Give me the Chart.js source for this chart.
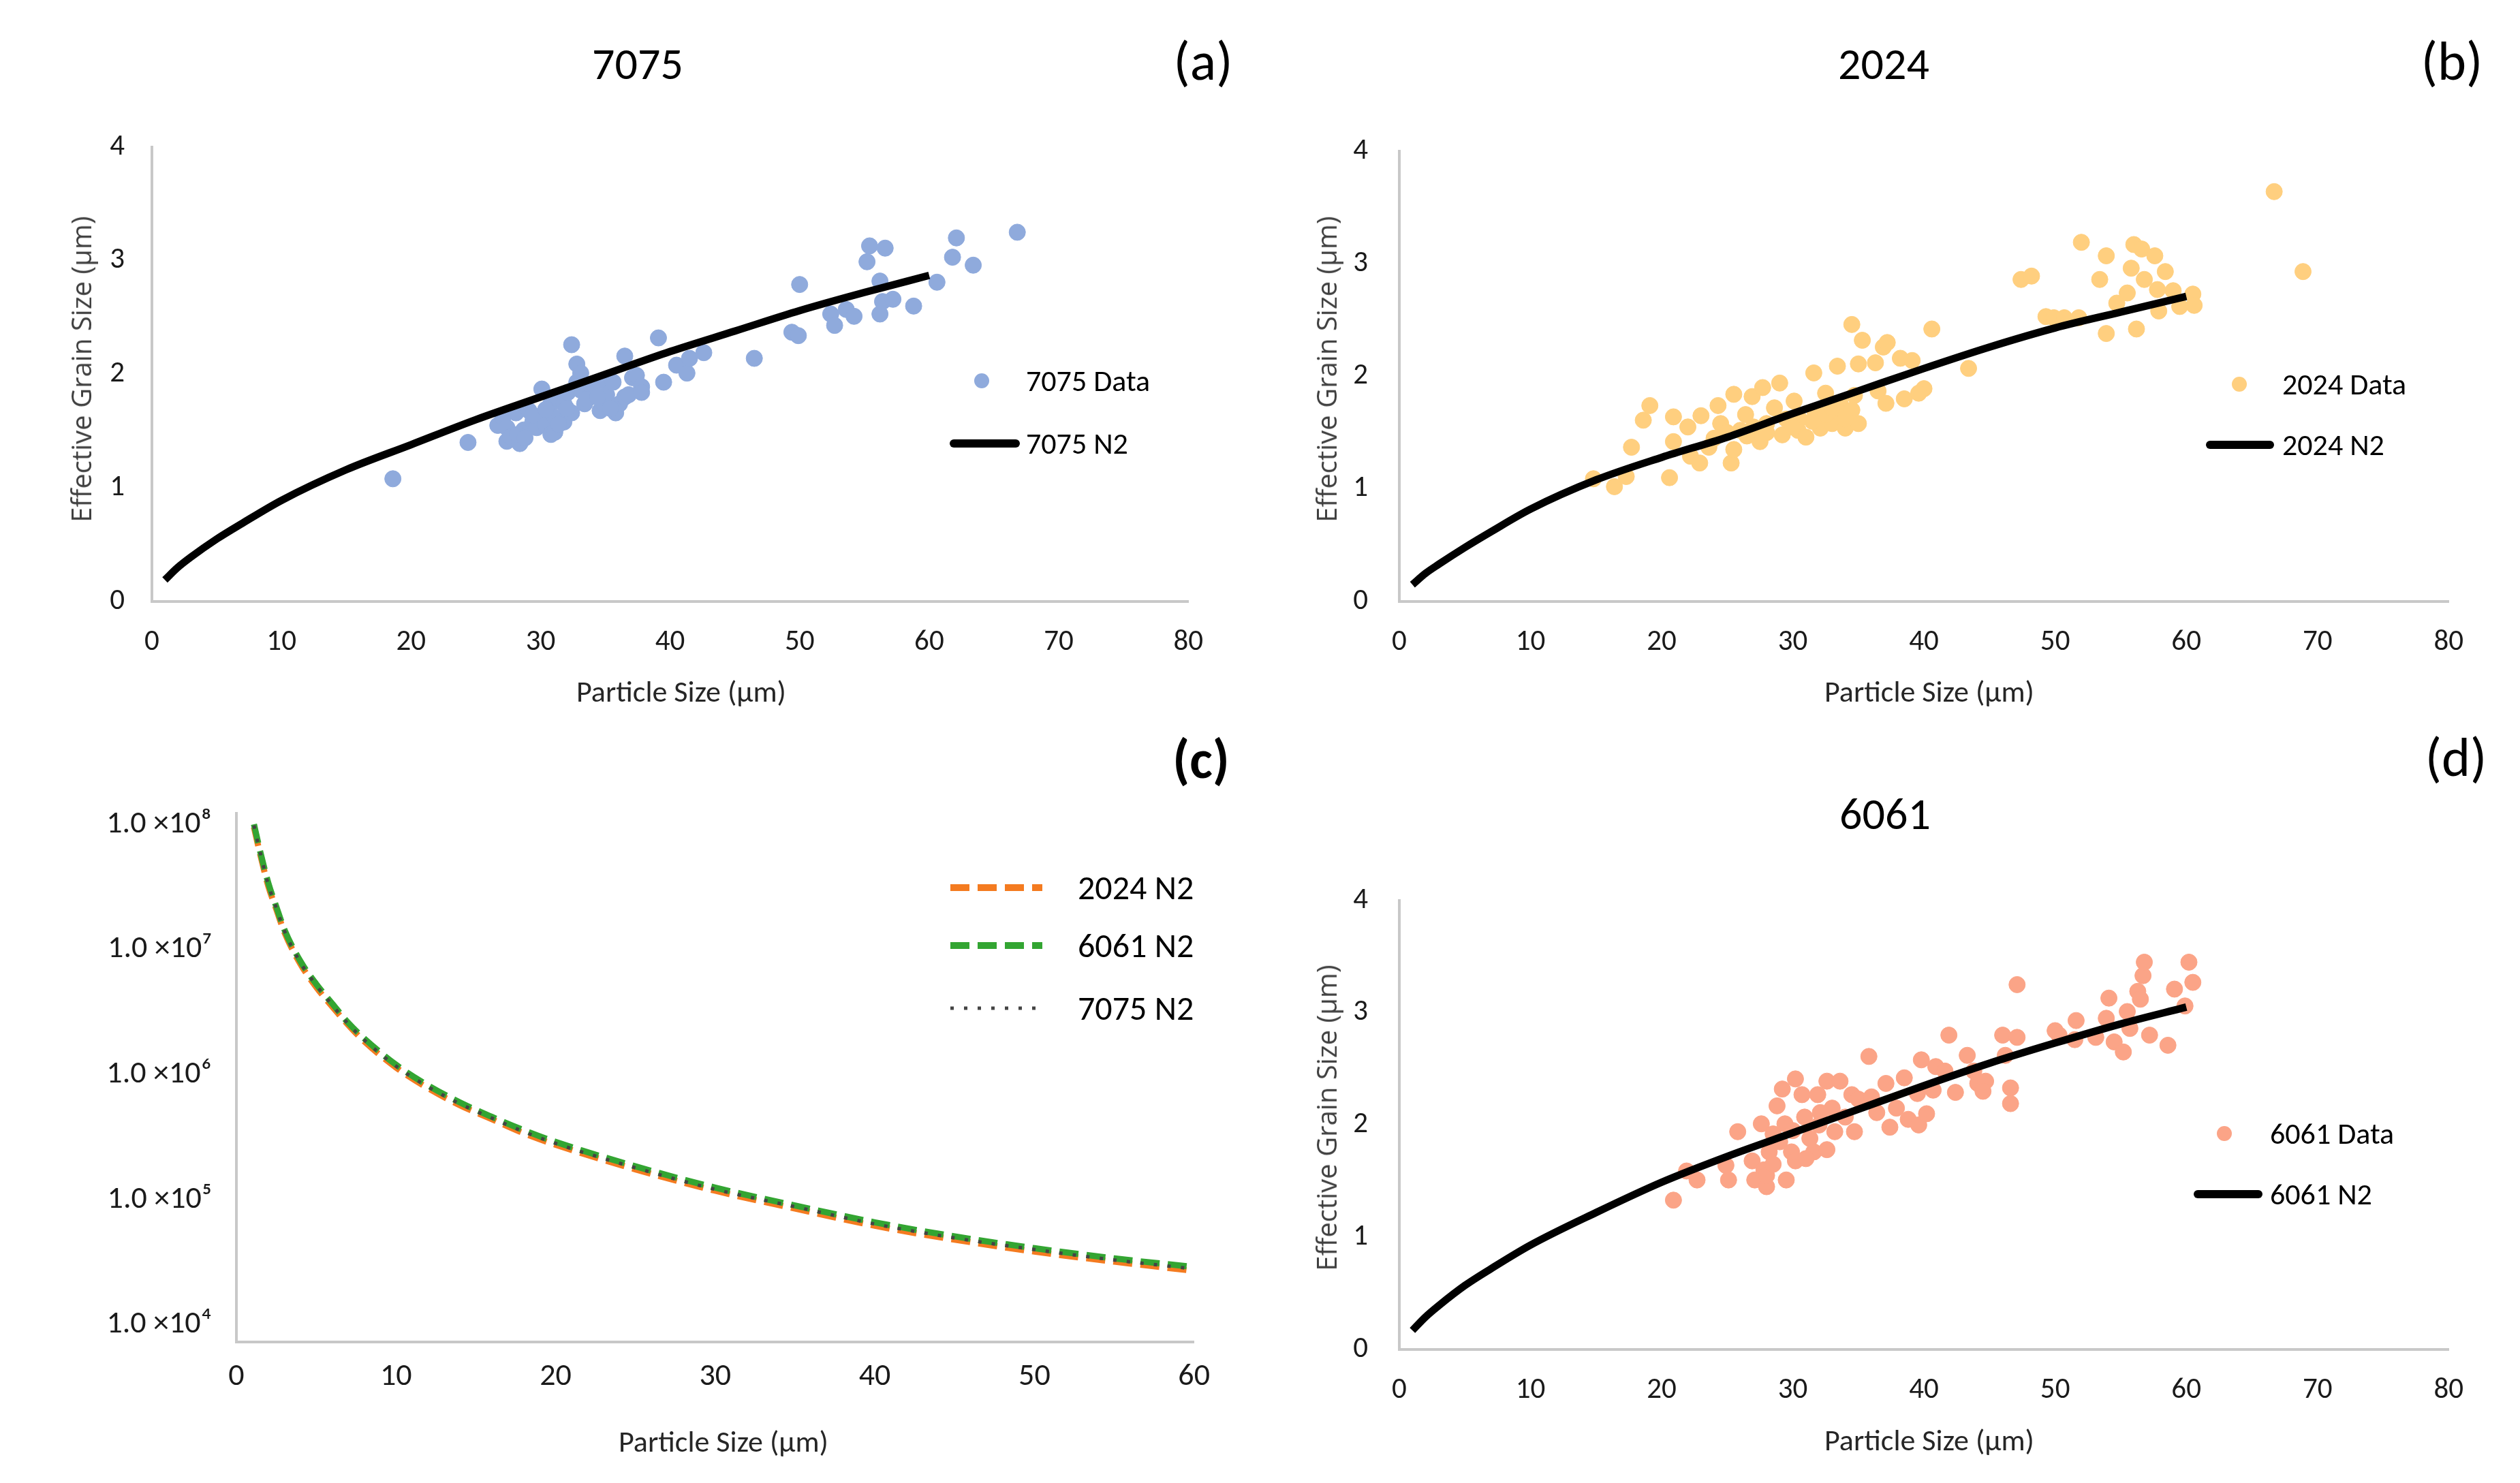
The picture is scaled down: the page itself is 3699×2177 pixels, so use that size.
<!DOCTYPE html>
<html>
<head>
<meta charset="utf-8">
<script src="https://cdn.jsdelivr.net/npm/chart.js@4.4.0/dist/chart.umd.min.js"></script>
<style>
  body { margin:0; width:3699px; height:2177px; background:#fff; position:relative; overflow:hidden;
         font-family: Carlito, 'Liberation Sans Narrow', 'Liberation Sans', sans-serif; }
  .box { position:absolute; }
  .t { position:absolute; white-space:nowrap; transform:translate(-50%,-50%); color:#000; line-height:1; }
  .ytitle { position:absolute; white-space:nowrap; transform:translate(-50%,-50%) rotate(-90deg);
            font-family:'Open Sans', 'DejaVu Sans', sans-serif; font-size:40px; color:#404040; line-height:1; }
  .xtitle { position:absolute; white-space:nowrap; transform:translate(-50%,-50%); font-size:44px; color:#262626; line-height:1; }
  .lg { position:absolute; white-space:nowrap; transform:translateY(-50%); font-size:44px; color:#000; line-height:1; }
  .dot { position:absolute; width:22px; height:22px; border-radius:50%; transform:translate(-50%,-50%); }
  .bar { position:absolute; height:12px; background:#000; transform:translateY(-50%); border-radius:6px; }
</style>
</head>
<body>

<div class="box" style="left:0;top:150px;width:1800px;height:950px"><canvas id="chartA"></canvas></div>
<div class="box" style="left:1850px;top:150px;width:1800px;height:950px"><canvas id="chartB"></canvas></div>
<div class="box" style="left:0;top:1130px;width:1800px;height:1047px"><canvas id="chartC"></canvas></div>
<div class="box" style="left:1850px;top:1250px;width:1800px;height:927px"><canvas id="chartD"></canvas></div>

<div class="t" style="left:936px;top:94px;font-size:66px">7075</div>
<div class="t" style="left:2765px;top:94px;font-size:66px">2024</div>
<div class="t" style="left:2767px;top:1195px;font-size:66px">6061</div>
<div class="t" style="left:1766px;top:90px;font-size:80px">(a)</div>
<div class="t" style="left:3599px;top:90px;font-size:80px">(b)</div>
<div class="t" style="left:1763px;top:1115px;font-size:80px;font-weight:bold">(c)</div>
<div class="t" style="left:3605px;top:1112px;font-size:80px">(d)</div>

<div class="ytitle" style="left:119px;top:542px">Effective Grain Size (µm)</div>
<div class="ytitle" style="left:1947px;top:542px">Effective Grain Size (µm)</div>
<div class="ytitle" style="left:1947px;top:1641px">Effective Grain Size (µm)</div>
<div class="xtitle" style="left:1000px;top:1015px">Particle Size (µm)</div>
<div class="xtitle" style="left:2832px;top:1015px">Particle Size (µm)</div>
<div class="xtitle" style="left:1062px;top:2116px">Particle Size (µm)</div>
<div class="xtitle" style="left:2832px;top:2114px">Particle Size (µm)</div>

<!-- legends -->
<div class="dot" style="left:1441px;top:559px;background:#8FAADC"></div>
<div class="lg" style="left:1506px;top:559px">7075 Data</div>
<div class="bar" style="left:1394px;top:651px;width:103px"></div>
<div class="lg" style="left:1506px;top:651px">7075 N2</div>

<div class="dot" style="left:3287px;top:564px;background:#FFCF7F"></div>
<div class="lg" style="left:3350px;top:564px">2024 Data</div>
<div class="bar" style="left:3238px;top:653px;width:100px"></div>
<div class="lg" style="left:3350px;top:653px">2024 N2</div>

<div class="dot" style="left:3265px;top:1664px;background:#FBA487"></div>
<div class="lg" style="left:3332px;top:1664px">6061 Data</div>
<div class="bar" style="left:3220px;top:1753px;width:101px"></div>
<div class="lg" style="left:3332px;top:1753px">6061 N2</div>

<svg style="position:absolute;left:1390px;top:1280px" width="150" height="230">
  <line x1="5" y1="23" x2="140" y2="23" stroke="#F47B20" stroke-width="10" stroke-dasharray="28 12"/>
  <line x1="5" y1="108" x2="140" y2="108" stroke="#33A532" stroke-width="10" stroke-dasharray="28 12"/>
  <line x1="5" y1="200" x2="140" y2="200" stroke="#444" stroke-width="5" stroke-dasharray="5 15"/>
</svg>
<div class="lg" style="left:1582px;top:1303px;font-size:50px">2024 N2</div>
<div class="lg" style="left:1582px;top:1388px;font-size:50px">6061 N2</div>
<div class="lg" style="left:1582px;top:1480px;font-size:50px">7075 N2</div>

<script>
// ---- scatter data (particle size µm, effective grain size µm) ----
const x7075 = [18.6, 24.4, 26.7, 27.1, 27.4, 27.4, 27.7, 28.1, 28.4, 28.7, 29.1, 29.4, 29.7, 30.1, 30.1, 30.4, 30.8, 30.8, 31.1, 31.1, 31.4, 31.8, 31.8, 32.1, 32.4, 32.4, 32.8, 32.8, 33.1, 33.1, 33.4, 33.8, 34.1, 34.6, 34.9, 35.1, 35.1, 35.6, 35.8, 36.1, 36.5, 36.5, 36.8, 37.1, 37.4, 37.8, 37.8, 39.1, 39.5, 40.5, 41.3, 41.5, 42.6, 46.5, 49.4, 49.9, 50.0, 52.4, 52.7, 53.6, 54.2, 55.2, 55.4, 56.6, 56.2, 56.2, 56.4, 57.2, 58.8, 60.6, 61.8, 62.1, 63.4, 66.8, 28.2, 28.8, 29.4, 30.4, 31.4, 32.0, 33.6, 34.4, 35.4];
const y7075 = [1.08, 1.40, 1.55, 1.62, 1.53, 1.41, 1.45, 1.66, 1.39, 1.51, 1.68, 1.58, 1.53, 1.87, 1.64, 1.55, 1.74, 1.47, 1.49, 1.62, 1.78, 1.74, 1.58, 1.84, 2.26, 1.66, 2.09, 1.93, 1.86, 2.01, 1.74, 1.80, 1.91, 1.68, 1.74, 1.93, 1.82, 1.93, 1.66, 1.74, 2.16, 1.80, 1.82, 1.97, 1.99, 1.89, 1.84, 2.32, 1.93, 2.08, 2.01, 2.14, 2.19, 2.14, 2.37, 2.34, 2.79, 2.53, 2.43, 2.57, 2.51, 2.99, 3.13, 3.11, 2.82, 2.53, 2.64, 2.66, 2.60, 2.81, 3.03, 3.20, 2.96, 3.25, 1.47, 1.44, 1.64, 1.69, 1.56, 1.70, 1.78, 1.80, 1.70];

const x2024 = [14.8, 16.4, 17.3, 17.7, 18.6, 19.1, 20.6, 20.9, 20.9, 22.0, 22.2, 23.0, 22.9, 23.6, 24.3, 24.5, 25.3, 25.5, 25.5, 26.4, 26.9, 27.7, 27.5, 28.6, 29.0, 29.2, 30.1, 30.4, 31.0, 31.6, 31.7, 32.1, 32.5, 33.0, 33.4, 33.6, 34.0, 34.5, 34.7, 35.0, 35.0, 35.3, 36.3, 36.5, 36.9, 37.2, 37.1, 38.2, 38.5, 39.1, 40.0, 40.6, 39.6, 43.4, 47.4, 48.2, 49.3, 49.9, 50.7, 51.8, 52.0, 53.4, 53.9, 53.9, 54.7, 55.5, 55.8, 56.0, 56.6, 56.2, 56.8, 57.6, 57.8, 57.9, 58.4, 59.0, 59.5, 60.5, 60.6, 66.7, 68.9, 24.0, 25.0, 26.0, 27.0, 28.0, 29.5, 30.5, 31.5, 32.5, 33.5, 34.5, 28.0, 26.5, 30.0, 33.0, 34.0];
const y2024 = [1.09, 1.02, 1.11, 1.37, 1.61, 1.74, 1.10, 1.64, 1.42, 1.55, 1.29, 1.65, 1.23, 1.37, 1.74, 1.58, 1.23, 1.84, 1.35, 1.66, 1.82, 1.90, 1.42, 1.72, 1.94, 1.48, 1.78, 1.52, 1.46, 2.03, 1.68, 1.54, 1.85, 1.58, 2.09, 1.76, 1.54, 2.46, 1.83, 2.11, 1.58, 2.32, 2.12, 1.87, 2.26, 2.30, 1.76, 2.16, 1.80, 2.14, 1.89, 2.42, 1.85, 2.07, 2.86, 2.89, 2.53, 2.52, 2.52, 2.52, 3.19, 2.86, 3.07, 2.38, 2.65, 2.74, 2.96, 3.17, 3.13, 2.42, 2.86, 3.07, 2.77, 2.58, 2.93, 2.76, 2.62, 2.73, 2.63, 3.64, 2.93, 1.45, 1.50, 1.52, 1.55, 1.58, 1.62, 1.62, 1.60, 1.66, 1.68, 1.70, 1.50, 1.47, 1.55, 1.72, 1.62];

const x6061 = [20.9, 21.9, 22.7, 24.9, 25.1, 25.8, 26.9, 27.1, 27.6, 28.0, 27.8, 28.2, 28.8, 28.5, 29.2, 29.4, 29.5, 29.9, 30.2, 30.2, 30.7, 30.9, 31.3, 31.6, 31.9, 32.1, 32.6, 32.6, 33.2, 33.6, 34.0, 34.5, 34.7, 35.0, 35.8, 36.4, 37.1, 37.4, 37.9, 38.5, 39.5, 39.8, 40.7, 40.9, 41.9, 41.6, 42.4, 43.3, 44.1, 44.7, 46.0, 47.1, 46.6, 46.6, 47.1, 46.2, 50.0, 50.3, 51.6, 51.5, 53.1, 54.1, 53.9, 54.5, 55.2, 55.5, 55.7, 56.3, 56.7, 56.8, 56.5, 57.2, 58.6, 59.1, 59.9, 60.5, 60.2, 28.0, 28.5, 29.0, 30.0, 31.0, 32.0, 33.0, 36.0, 38.8, 39.6, 40.2, 43.8, 44.5];
const y6061 = [1.33, 1.59, 1.51, 1.64, 1.51, 1.94, 1.68, 1.51, 2.01, 1.45, 1.60, 1.76, 2.17, 1.92, 2.32, 2.01, 1.51, 1.76, 2.41, 1.68, 2.27, 2.07, 1.88, 1.76, 2.27, 2.11, 2.39, 1.78, 1.94, 2.39, 2.07, 2.27, 1.94, 2.23, 2.61, 2.11, 2.37, 1.98, 2.15, 2.42, 2.28, 2.58, 2.31, 2.52, 2.80, 2.48, 2.29, 2.62, 2.37, 2.39, 2.80, 2.78, 2.33, 2.19, 3.25, 2.62, 2.84, 2.80, 2.93, 2.76, 2.78, 3.13, 2.95, 2.74, 2.65, 3.01, 2.86, 3.19, 3.33, 3.45, 3.12, 2.80, 2.71, 3.21, 3.06, 3.27, 3.45, 1.55, 1.65, 1.85, 1.95, 1.70, 2.00, 2.15, 2.25, 2.05, 2.00, 2.10, 2.48, 2.30];

// ---- N2 model curves ----
const xN2 = [1, 2, 3, 5, 7, 10, 15, 20, 25, 30, 35, 40, 45, 50, 55, 60];
const y7075N2 = [0.19, 0.30, 0.39, 0.55, 0.69, 0.89, 1.16, 1.38, 1.60, 1.80, 2.00, 2.20, 2.38, 2.56, 2.72, 2.87];
const y2024N2 = [0.15, 0.25, 0.33, 0.48, 0.62, 0.82, 1.08, 1.28, 1.46, 1.67, 1.87, 2.07, 2.26, 2.43, 2.57, 2.71];
const y6061N2 = [0.17, 0.29, 0.39, 0.57, 0.72, 0.93, 1.22, 1.49, 1.72, 1.93, 2.14, 2.35, 2.55, 2.73, 2.90, 3.05];

// ---- panel (c): N2 vs particle size, log axis ----
const xC = [1.1, 1.5, 2, 2.5, 3, 4, 5, 6, 7, 8, 10, 12, 14, 16, 18, 20, 25, 30, 35, 40, 45, 50, 55, 60];
const c2024 = [9.5e7, 5.7e7, 3.2e7, 2.1e7, 1.38e7, 7.7e6, 5.0e6, 3.5e6, 2.5e6, 1.85e6, 1.14e6, 7.8e5, 5.7e5, 4.4e5, 3.4e5, 2.75e5, 1.75e5, 1.18e5, 8.5e4, 6.2e4, 4.8e4, 3.85e4, 3.2e4, 2.7e4];
const c6061 = [1.0e8, 6.0e7, 3.4e7, 2.2e7, 1.45e7, 8.1e6, 5.3e6, 3.7e6, 2.6e6, 1.95e6, 1.2e6, 8.2e5, 6.0e5, 4.6e5, 3.6e5, 2.9e5, 1.85e5, 1.25e5, 9.0e4, 6.6e4, 5.1e4, 4.1e4, 3.4e4, 2.9e4];
const c7075 = [9.8e7, 5.9e7, 3.3e7, 2.15e7, 1.42e7, 7.9e6, 5.2e6, 3.6e6, 2.55e6, 1.9e6, 1.17e6, 8.0e5, 5.85e5, 4.5e5, 3.5e5, 2.82e5, 1.8e5, 1.21e5, 8.8e4, 6.4e4, 4.95e4, 4.0e4, 3.3e4, 2.8e4];
const yTicksC = [1e4, 1e5, 1e6, 1e7, 1e8];
const sup = { 4: '⁴', 5: '⁵', 6: '⁶', 7: '⁷', 8: '⁸' };

const numFont = "Carlito, 'Liberation Sans Narrow', 'Liberation Sans', sans-serif";
const axisGrey = '#c8c8c8';

function zip(xs, ys) { return xs.map((x, i) => ({ x: x, y: ys[i] })); }

function grainChart(id, xs, ys, color, curveY, lay) {
    new Chart(document.getElementById(id), {
        type: 'scatter',
        data: {
            datasets: [
                { data: zip(xs, ys), backgroundColor: color, borderColor: color, pointRadius: 12, pointHoverRadius: 12, order: 2 },
                { type: 'line', data: zip(xN2, curveY), borderColor: '#000', borderWidth: 11, pointRadius: 0,
                  showLine: true, fill: false, cubicInterpolationMode: 'monotone', order: 1 }
            ]
        },
        options: {
            responsive: true, maintainAspectRatio: false, animation: false, devicePixelRatio: 1,
            layout: { padding: { top: lay.top, right: lay.right, left: 0, bottom: 0 } },
            plugins: { legend: { display: false }, tooltip: { enabled: false } },
            scales: {
                x: { type: 'linear', min: 0, max: 80,
                     ticks: { stepSize: 10, padding: 34, color: '#1a1a1a', font: { family: numFont, size: 43 } },
                     grid: { display: false, drawTicks: false }, border: { color: axisGrey, width: 4 },
                     afterFit: s => { s.height = lay.xH; } },
                y: { type: 'linear', min: 0, max: 4,
                     ticks: { stepSize: 1, padding: lay.yPad, color: '#1a1a1a', font: { family: numFont, size: 43 } },
                     grid: { display: false, drawTicks: false }, border: { color: axisGrey, width: 4 },
                     afterFit: s => { s.width = lay.yW; } }
            }
        }
    });
}

function densityChart() {
    const line = (ys, color, w, dash, ord) => ({ type: 'line', data: zip(xC, ys), borderColor: color, borderWidth: w,
        borderDash: dash, pointRadius: 0, showLine: true, fill: false, cubicInterpolationMode: 'monotone', order: ord });
    new Chart(document.getElementById('chartC'), {
        type: 'scatter',
        data: { datasets: [
            line(c2024, '#F47B20', 9, [28, 12], 3),
            line(c6061, '#33A532', 9, [28, 12], 2),
            line(c7075, '#444444', 5, [5, 15], 1)
        ]},
        options: {
            responsive: true, maintainAspectRatio: false, animation: false, devicePixelRatio: 1,
            layout: { padding: { top: 36, right: 27, left: 0, bottom: 0 } },
            plugins: { legend: { display: false }, tooltip: { enabled: false } },
            scales: {
                x: { type: 'linear', min: 0, max: 60,
                     ticks: { stepSize: 10, padding: 24, color: '#1a1a1a', font: { family: numFont, size: 46 } },
                     grid: { display: false, drawTicks: false }, border: { color: axisGrey, width: 4 },
                     afterFit: s => { s.height = 207; } },
                y: { type: 'logarithmic', min: 7300, max: 1.23e8,
                     afterBuildTicks: s => { s.ticks = yTicksC.map(v => ({ value: v })); },
                     ticks: { autoSkip: false, padding: 36, color: '#1a1a1a', font: { family: numFont, size: 46 },
                              callback: v => '1.0 ×10' + sup[Math.round(Math.log10(v))] },
                     grid: { display: false, drawTicks: false }, border: { color: axisGrey, width: 4 },
                     afterFit: s => { s.width = 347; } }
            }
        }
    });
}

document.addEventListener('DOMContentLoaded', function () {
    grainChart('chartA', x7075, y7075, '#8FAADC', y7075N2, { top: 49, right: 25, yW: 223, xH: 217, yPad: 40 });
    grainChart('chartB', x2024, y2024, '#FFCF7F', y2024N2, { top: 49, right: 45, yW: 204, xH: 217, yPad: 46 });
    grainChart('chartD', x6061, y6061, '#FBA487', y6061N2, { top: 48, right: 45, yW: 204, xH: 196, yPad: 46 });
    densityChart();
});
</script>
</body>
</html>
